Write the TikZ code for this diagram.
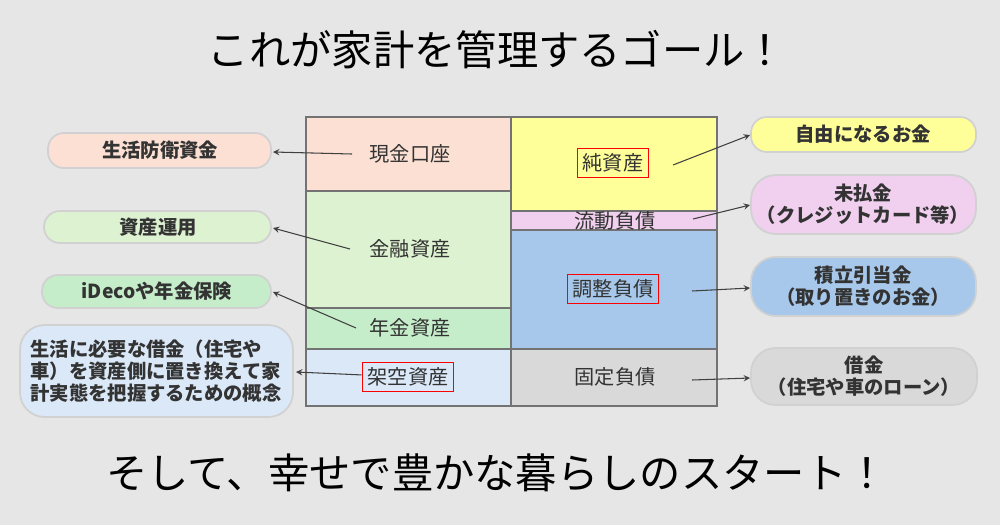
\documentclass[tikz,border=0pt]{standalone}
\usepackage{fontspec}
\setmainfont{Noto Sans CJK JP}
\usetikzlibrary{calc}
\definecolor{bgc}{HTML}{E6E6E6}
\definecolor{cash}{HTML}{FBE0D3}
\definecolor{fin}{HTML}{DDF2D0}
\definecolor{pens}{HTML}{C5EDCA}
\definecolor{virt}{HTML}{DAE8F7}
\definecolor{net}{HTML}{FFFF99}
\definecolor{cur}{HTML}{F0D0EE}
\definecolor{adj}{HTML}{A7C8EA}
\definecolor{fix}{HTML}{D9D9D9}
\tikzset{
  cell/.style={draw=black!55, line width=1pt},
  lbl/.style={font=\fontsize{11.5}{13}\selectfont, text=black!80},
  redbox/.style={draw=red, line width=0.9pt, inner sep=3pt},
  pill/.style={draw=black!18, line width=1pt, rounded corners=9pt},
  ptxt/.style={font=\bfseries\fontsize{11}{12.5}\selectfont, text=black!80, align=center},
  arr/.style={->, >=stealth, black!75, line width=0.6pt}
}
\begin{document}
\begin{tikzpicture}[x=0.02cm, y=-0.02cm]
    \fill[bgc] (0,0) rectangle (1000,525);
    \useasboundingbox (0,0) rectangle (1000,525);
    \node[font=\fontsize{23.5}{28}\selectfont] (title) at (497,50) {これが家計を管理するゴール！};
    \node[font=\fontsize{23.5}{28}\selectfont] (foot) at (497,473) {そして、幸せで豊かな暮らしのスタート！};

    % balance sheet, left side
    \draw[cell, fill=cash] (306,117) rectangle (511,191);
    \draw[cell, fill=fin] (306,191) rectangle (511,308);
    \draw[cell, fill=pens] (306,308) rectangle (511,349);
    \draw[cell, fill=virt] (306,349) rectangle (511,406);
    % balance sheet, right side
    \draw[cell, fill=net] (511,117) rectangle (717,211);
    \draw[cell, fill=cur] (511,211) rectangle (717,230);
    \draw[cell, fill=adj] (511,230) rectangle (717,349);
    \draw[cell, fill=fix] (511,349) rectangle (717,406);

    \node[lbl] (cash) at (410,154) {現金口座};
    \node[lbl] (fin) at (410,249) {金融資産};
    \node[lbl] (pens) at (410,328) {年金資産};
    \node[lbl, redbox] (virt) at (408,377) {架空資産};
    \node[lbl, redbox] (net) at (613,163) {純資産};
    \node[lbl, inner sep=0pt] (cur) at (615,221) {流動負債};
    \node[lbl, redbox] (adj) at (613,289) {調整負債};
    \node[lbl] (fix) at (615,377) {固定負債};

    % callouts
    \draw[pill, fill=cash] (48,133) rectangle (271,168);
    \node[ptxt] (p1) at (160,150) {生活防衛資金};
    \draw[pill, fill=fin] (44,211) rectangle (271,243);
    \node[ptxt] (p2) at (158,227) {資産運用};
    \draw[pill, fill=pens] (42,275) rectangle (271,308);
    \node[ptxt] (p3) at (157,291) {iDecoや年金保険};
    \draw[pill, rounded corners=14pt, fill=virt] (20,325) rectangle (293,417);
    \node[ptxt, align=left] (p4) at (156,371) {生活に必要な借金（住宅や\\車）を資産側に置き換えて家\\計実態を把握するための概念};
    \draw[pill, fill=net] (751,117) rectangle (976,152);
    \node[ptxt] (q1) at (863,134) {自由になるお金};
    \draw[pill, rounded corners=14pt, fill=cur] (751,175) rectangle (976,234);
    \node[ptxt] (q2) at (863,204) {未払金\\（クレジットカード等）};
    \draw[pill, rounded corners=14pt, fill=adj] (751,257) rectangle (976,316);
    \node[ptxt] (q3) at (863,286) {積立引当金\\（取り置きのお金）};
    \draw[pill, rounded corners=14pt, fill=fix] (751,348) rectangle (977,405);
    \node[ptxt] (q4) at (864,376) {借金\\（住宅や車のローン）};

    % arrows
    \coordinate (a1) at (352,154);
    \coordinate (a2) at (350,249);
    \coordinate (a3) at (356,328);
    \coordinate (a4) at (692,291);
    \coordinate (a5) at (692,380);
    \coordinate (a6) at (673,165);
    \coordinate (a7) at (693,219);
    \draw[arr] (a1) -- (273,152);
    \draw[arr] (a2) -- (273,228);
    \draw[arr] (a3) -- (273,292);
    \draw[arr] (virt) -- (296,372);
    \draw[arr] (a6) -- (750,135);
    \draw[arr] (a7) -- (750,205);
    \draw[arr] (a4) -- (750,288);
    \draw[arr] (a5) -- (750,378);
\end{tikzpicture}
\end{document}
